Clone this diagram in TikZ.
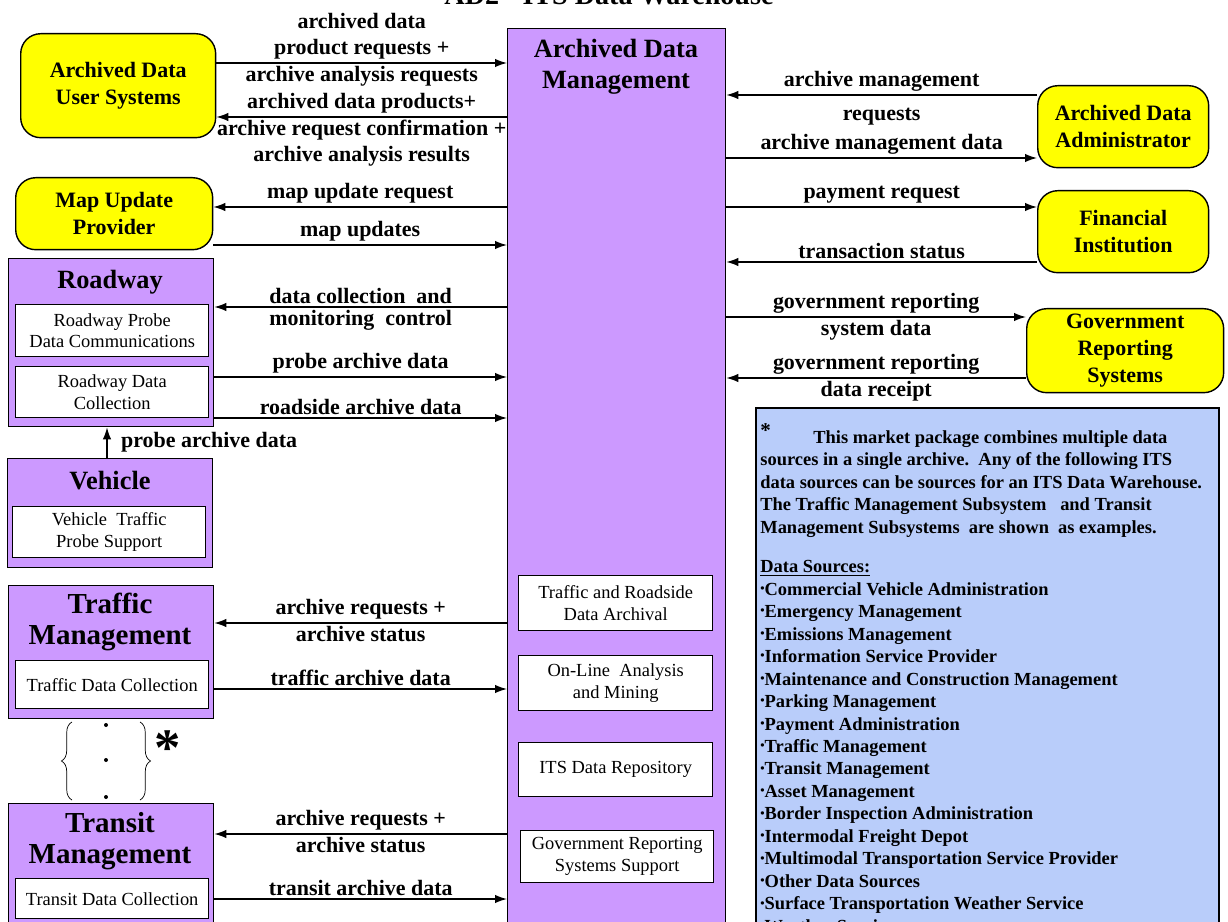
\documentclass[tikz,border=0pt]{standalone}
\usepackage{fontspec}
\setmainfont{Liberation Serif}
\usetikzlibrary{arrows.meta,decorations.pathreplacing}
\definecolor{adviolet}{RGB}{204,153,255}
\definecolor{adyellow}{RGB}{255,255,0}
\definecolor{adblue}{RGB}{185,205,250}
\newcommand{\bul}{\raisebox{1.5pt}{\scriptsize•}}
\begin{document}
\begin{tikzpicture}[x=0.02cm,y=-0.02cm,
    flow/.style={line width=0.8pt,-{Latex[length=2.4mm,width=1.7mm]}},
    lab/.style={font=\fontsize{12.5}{14.8}\selectfont\bfseries,align=center,inner sep=1.6pt},
    vbox/.style={draw,fill=adviolet,line width=0.8pt,anchor=north west,inner sep=0pt},
    sbox/.style={draw,fill=white,line width=0.8pt,anchor=north west,inner sep=0pt,align=center,font=\fontsize{10.5}{12.5}\selectfont},
    ybox/.style={draw,fill=adyellow,line width=0.8pt,rounded corners=0.4cm,anchor=north west,inner sep=0pt,align=center,font=\fontsize{12.5}{15.5}\selectfont\bfseries},
    ttl/.style={align=center,inner sep=0pt,font=\fontsize{15}{17.5}\selectfont\bfseries}]
    %% Frame
    \useasboundingbox (0,0) rectangle (1228,922);
    \node[font=\fontsize{16}{18}\selectfont\bfseries,anchor=base] (title) at (609,5) {AD2 - ITS Data Warehouse};
    %% Archived Data Management
    \node[vbox,minimum width=4.36cm,minimum height=18.4cm] (adm) at (507,28) {};
    \node[ttl] (admT) at (616,67) {Archived Data\\Management};
    \node[sbox,minimum width=3.88cm,minimum height=1.1cm] (tra) at (518,575) {Traffic and Roadside\\Data Archival};
    \node[sbox,minimum width=3.88cm,minimum height=1.1cm] (ola) at (518,655) {On-Line \ Analysis\\and Mining};
    \node[sbox,minimum width=3.88cm,minimum height=1.08cm] (itsr) at (518,742) {ITS Data Repository};
    \node[sbox,minimum width=3.86cm,minimum height=1.04cm] (grss) at (520,830) {Government Reporting\\Systems Support};
    %% Left terminators
    \node[ybox,minimum width=3.9cm,minimum height=2.08cm] (adus) at (20,33) {Archived Data\\User Systems};
    \node[ybox,minimum width=3.94cm,minimum height=1.44cm] (mup) at (15,177) {Map Update\\Provider};
    %% Roadway
    \node[vbox,minimum width=4.1cm,minimum height=3.36cm] (rdwy) at (8,258) {};
    \node[ttl] (rdwyT) at (110,282) {Roadway};
    \node[sbox,minimum width=3.86cm,minimum height=1.04cm] (rdwyPDC) at (15,304) {Roadway Probe\\Data Communications};
    \node[sbox,minimum width=3.86cm,minimum height=1.02cm] (rdwyDC) at (15,366) {Roadway Data\\Collection};
    %% Vehicle
    \node[vbox,minimum width=4.1cm,minimum height=2.18cm] (veh) at (7,458) {};
    \node[ttl] (vehT) at (110,481) {Vehicle};
    \node[sbox,minimum width=3.86cm,minimum height=1.02cm] (vehTPS) at (12,506) {Vehicle \ Traffic\\Probe Support};
    %% Traffic Management
    \node[vbox,minimum width=4.1cm,minimum height=2.66cm] (tm) at (8,585) {};
    \node[ttl,font=\fontsize{16.5}{18}\selectfont\bfseries] (tmT) at (110,622) {Traffic\\Management};
    \node[sbox,minimum width=3.86cm,minimum height=0.96cm] (tmDC) at (15,660) {Traffic Data Collection};
    %% Other sources
    \draw[decorate,decoration={brace,amplitude=6pt}] (72,800) -- (72,722);
    \draw[decorate,decoration={brace,amplitude=6pt}] (140,722) -- (140,800);
    \foreach \dy in {725,760,797}
        \fill (106,\dy) circle (2);
    \node[font=\fontsize{30}{30}\selectfont\bfseries] (star) at (168,748) {*};
    %% Transit Management
    \node[vbox,minimum width=4.1cm,minimum height=2.5cm] (trm) at (8,803) {};
    \node[ttl,font=\fontsize{16.5}{18}\selectfont\bfseries] (trmT) at (110,841) {Transit\\Management};
    \node[sbox,minimum width=3.86cm,minimum height=0.8cm] (trmDC) at (15,878) {Transit Data Collection};
    %% Right terminators
    \node[ybox,minimum width=3.42cm,minimum height=1.64cm] (ada) at (1037,85) {Archived Data\\Administrator};
    \node[ybox,minimum width=3.42cm,minimum height=1.64cm] (fi) at (1037,190) {Financial\\Institution};
    \node[ybox,minimum width=3.94cm,minimum height=1.68cm] (grs) at (1026,308) {Government\\Reporting\\Systems};
    %% Note
    \node[draw,fill=adblue,line width=1.3pt,anchor=north west,minimum width=9.26cm,minimum height=12cm] (note) at (755,407) {};
    \node[anchor=north west,inner sep=0pt,align=left,font=\fontsize{10.5}{12.8}\selectfont\bfseries] (noteT) at (760,430) {%
        \raisebox{3pt}[0pt][0pt]{\large *}\hspace{2.3em}This market package combines multiple data\\
        sources in a single archive.\ \ Any of the following ITS\\
        data sources can be sources for an ITS Data Warehouse.\\
        The Traffic Management Subsystem \ \ and Transit\\
        Management Subsystems \ are shown \ as examples.\\[0.34cm]
        \underline{Data Sources:}\\
        \bul Commercial Vehicle Administration\\
        \bul Emergency Management\\
        \bul Emissions Management\\
        \bul Information Service Provider\\
        \bul Maintenance and Construction Management\\
        \bul Parking Management\\
        \bul Payment Administration\\
        \bul Traffic Management\\
        \bul Transit Management\\
        \bul Asset Management\\
        \bul Border Inspection Administration\\
        \bul Intermodal Freight Depot\\
        \bul Multimodal Transportation Service Provider\\
        \bul Other Data Sources\\
        \bul Surface Transportation Weather Service\\
        \bul Weather Service};
    %% Flows, left side
    \draw[flow] (adus.east |- 0,63) -- node[lab,above] {archived data\\product requests +} node[lab,below] {archive analysis requests} (adm.west |- 0,63);
    \draw[flow] (adm.west |- 0,117) -- node[lab,above] {archived data products+} node[lab,below] {archive request confirmation +\\archive analysis results} (adus.east |- 0,117);
    \draw[flow] (adm.west |- 0,207) -- node[lab,above] {map update request} (mup.east |- 0,207);
    \draw[flow] (mup.east |- 0,245) -- node[lab,above] {map updates} (adm.west |- 0,245);
    \draw[flow] (adm.west |- 0,307) -- node[lab,above] {data collection \ and} node[lab,below] {monitoring \ control} (rdwy.east |- 0,307);
    \draw[flow] (rdwy.east |- 0,377) -- node[lab,above] {probe archive data} (adm.west |- 0,377);
    \draw[flow] (rdwy.east |- 0,418) -- node[lab,above] {roadside archive data} (adm.west |- 0,418);
    \draw[flow] (veh.north -| 107,0) -- node[lab,right,xshift=6pt] {probe archive data} (rdwy.south -| 107,0);
    \draw[flow] (adm.west |- 0,623) -- node[lab,above] {archive requests +} node[lab,below] {archive status} (tm.east |- 0,623);
    \draw[flow] (tm.east |- 0,689) -- node[lab,above] {traffic archive data} (adm.west |- 0,689);
    \draw[flow] (adm.west |- 0,834) -- node[lab,above] {archive requests +} node[lab,below] {archive status} (trm.east |- 0,834);
    \draw[flow] (trm.east |- 0,899) -- node[lab,above] {transit archive data} (adm.west |- 0,899);
    %% Flows, right side
    \draw[flow] (ada.west |- 0,95) -- node[lab,above] {archive management} node[lab,below=2pt] {requests\strut} (adm.east |- 0,95);
    \draw[flow] (adm.east |- 0,158) -- node[lab,above] {archive management data} (ada.west |- 0,158);
    \draw[flow] (adm.east |- 0,207) -- node[lab,above] {payment request} (fi.west |- 0,207);
    \draw[flow] (fi.west |- 0,262) -- node[lab,above] {transaction status} (adm.east |- 0,262);
    \draw[flow] (adm.east |- 0,317) -- node[lab,above] {government reporting} node[lab,below] {system data} (grs.west |- 0,317);
    \draw[flow] (grs.west |- 0,378) -- node[lab,above] {government reporting} node[lab,below] {data receipt} (adm.east |- 0,378);
\end{tikzpicture}
\end{document}
